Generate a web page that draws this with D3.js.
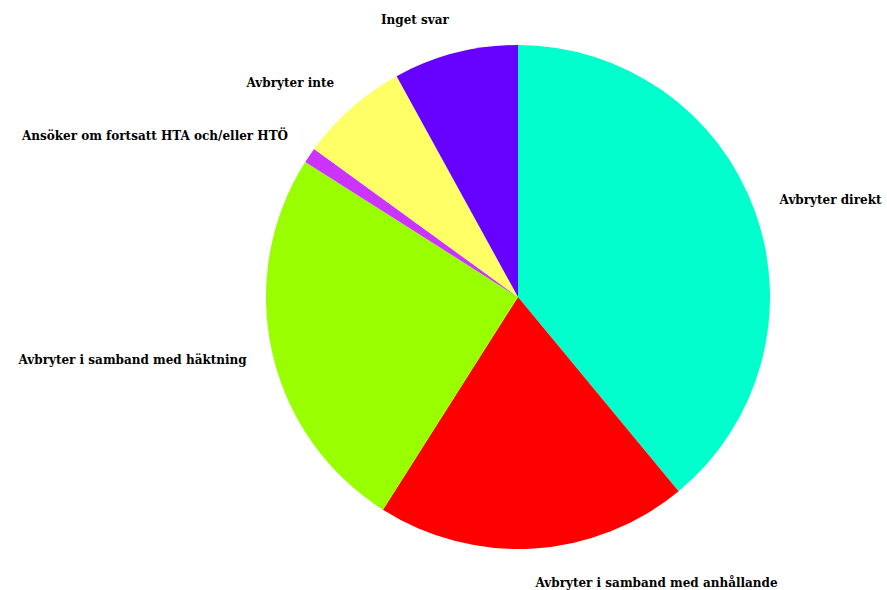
<!DOCTYPE html>
<html>
<head>
<meta charset="utf-8">
<script src="https://cdn.jsdelivr.net/npm/d3@7"></script>
<style>
  body { margin: 0; background: #fff; }
  text { font-family: 'DejaVu Serif', serif; font-size: 12px; font-weight: bold; fill: #000; }
</style>
</head>
<body>
<svg id="chart" width="887" height="590"></svg>
<script>
const categories = [
  'Avbryter direkt',
  'Avbryter i samband med anhållande',
  'Avbryter i samband med häktning',
  'Ansöker om fortsatt HTA och/eller HTÖ',
  'Avbryter inte',
  'Inget svar'
]
const values = [39, 20, 25, 1, 7, 8]
const colors = ['#00ffcc', '#ff0000', '#99ff00', '#cc33ff', '#ffff66', '#6600ff']

const width = 887
const height = 590
const cx = 518
const cy = 297
const radius = 252
const labelRadius = 278

const data = categories.map((c, i) => ({ name: c, value: values[i], color: colors[i] }))

const svg = d3.select('#chart')
const g = svg.append('g').attr('transform', `translate(${cx},${cy})`)

const pie = d3.pie().sort(null).value(d => d.value)
const arc = d3.arc().innerRadius(0).outerRadius(radius)
const arcs = pie(data)

g.selectAll('path')
  .data(arcs)
  .enter()
  .append('path')
  .attr('d', arc)
  .attr('fill', d => d.data.color)

// labels sit just outside the slice, anchored away from the pie
g.selectAll('text')
  .data(arcs)
  .enter()
  .append('text')
  .attr('x', d => Math.sin((d.startAngle + d.endAngle) / 2) * labelRadius)
  .attr('y', d => {
    const a = (d.startAngle + d.endAngle) / 2
    return -Math.cos(a) * labelRadius - Math.cos(a) * 8
  })
  .attr('dy', '0.35em')
  .attr('text-anchor', d => ((d.startAngle + d.endAngle) / 2 > Math.PI ? 'end' : 'start'))
  .text(d => d.data.name)
</script>
</body>
</html>
